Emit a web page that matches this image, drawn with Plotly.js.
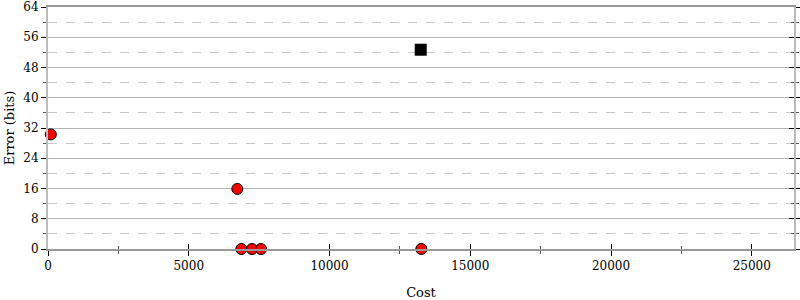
<!DOCTYPE html>
<html>
<head>
<meta charset="utf-8">
<script src="https://cdn.plot.ly/plotly-3.0.1.min.js"></script>
<style>html,body{margin:0;padding:0;background:#fff;}#chart{width:800px;height:300px;}</style>
</head>
<body>
<div id="chart"></div>
<script>
var circleCost = [100, 6725, 6867, 7247, 7567, 13261];
var circleError = [30.3, 15.9, 0, 0, 0, 0];
var squareCost = [13240];
var squareError = [52.7];
var xTicks = [0, 5000, 10000, 15000, 20000, 25000];
var yTicks = [0, 8, 16, 24, 32, 40, 48, 56, 64];

var font = {family: 'DejaVu Serif', size: 13, color: '#000'};
var tickFont = {family: 'DejaVu Serif', size: 12, color: '#000'};

var traces = [
  {x: circleCost, y: circleError, type: 'scatter', mode: 'markers', cliponaxis: false,
   marker: {symbol: 'circle', size: 11, color: '#ff0000', line: {color: '#000', width: 1}}},
  {x: squareCost, y: squareError, type: 'scatter', mode: 'markers', cliponaxis: false,
   marker: {symbol: 'square', size: 12, color: '#000', line: {color: '#000', width: 0}}},
  {x: [null], y: [null], xaxis: 'x2', yaxis: 'y2', type: 'scatter', mode: 'markers', showlegend: false, hoverinfo: 'skip'}
];

var layout = {
  width: 800, height: 300,
  margin: {l: 48, r: 6, t: 7, b: 51},
  paper_bgcolor: '#fff', plot_bgcolor: '#fff',
  showlegend: false,
  font: font,
  xaxis: {
    range: [0, 26500], tickmode: 'array', tickvals: xTicks, ticktext: xTicks.map(String),
    ticks: 'outside', ticklen: 5, tickcolor: '#000', tickwidth: 1,
    minor: {dtick: 2500, tick0: 0, ticks: 'outside', ticklen: 3, tickcolor: '#555', showgrid: false},
    showline: true, linecolor: '#999', linewidth: 2, mirror: true,
    showgrid: false, zeroline: false, ticklabeloverflow: 'allow',
    title: {text: 'Cost', font: font, standoff: 15},
    tickfont: tickFont
  },
  xaxis2: {
    overlaying: 'x', matches: 'x', anchor: 'y', side: 'bottom',
    range: [0, 26500], tickmode: 'array', tickvals: xTicks,
    ticks: 'inside', ticklen: 5, tickcolor: '#000', tickwidth: 1,
    minor: {dtick: 2500, tick0: 0, ticks: 'inside', ticklen: 3, tickcolor: '#555', showgrid: false},
    showticklabels: false, showline: false, showgrid: false, zeroline: false
  },
  yaxis: {
    range: [0, 64], tickmode: 'array', tickvals: yTicks, ticktext: yTicks.map(String),
    ticks: 'outside', ticklen: 5, tickcolor: '#000', tickwidth: 1,
    minor: {dtick: 4, tick0: 0, ticks: 'outside', ticklen: 3, tickcolor: '#555',
            showgrid: true, gridcolor: '#c8c8c8', griddash: 'dash', gridwidth: 1},
    showgrid: true, gridcolor: '#b4b4b4', gridwidth: 1,
    showline: true, linecolor: '#bbb', linewidth: 2, mirror: 'allticks',
    zeroline: false, ticklabeloverflow: 'allow',
    title: {text: 'Error (bits)', font: font, standoff: 6},
    tickfont: tickFont
  },
  yaxis2: {
    overlaying: 'y', matches: 'y', anchor: 'x', side: 'right',
    range: [0, 64], tickmode: 'array', tickvals: yTicks,
    ticks: 'inside', ticklen: 5, tickcolor: '#000', tickwidth: 1,
    minor: {dtick: 4, tick0: 0, ticks: 'inside', ticklen: 3, tickcolor: '#555', showgrid: false},
    showticklabels: false, showline: false, showgrid: false, zeroline: false
  }
};

Plotly.newPlot('chart', traces, layout, {displayModeBar: false, staticPlot: true});
</script>
</body>
</html>
